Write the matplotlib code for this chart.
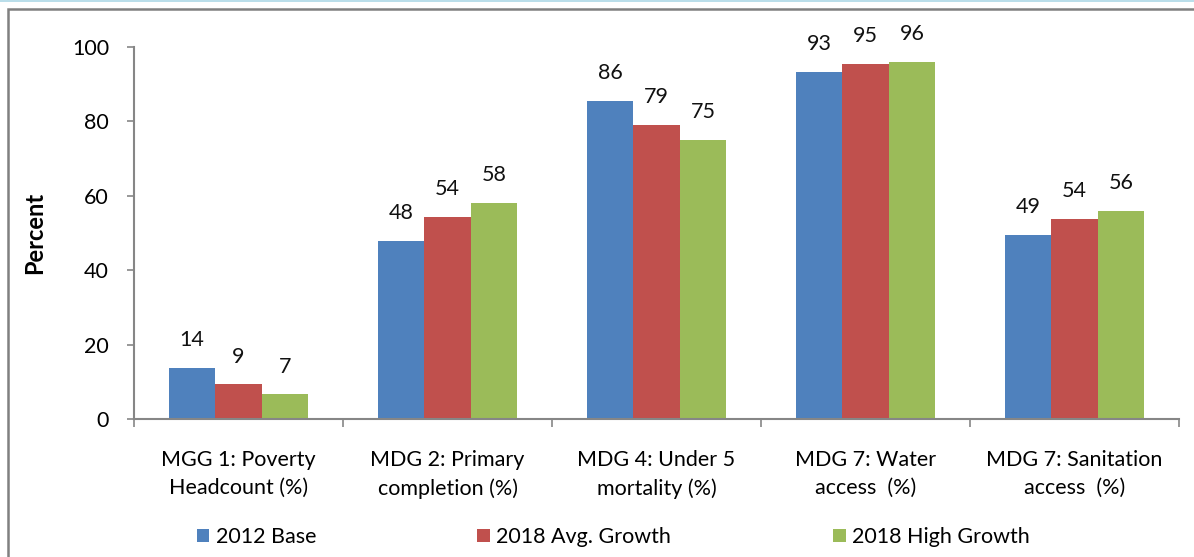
import numpy as np
import matplotlib
matplotlib.use("Agg")
import matplotlib.pyplot as plt
from matplotlib.patches import Rectangle
from matplotlib.lines import Line2D

categories = ["MGG 1: Poverty\nHeadcount (%)", "MDG 2: Primary\ncompletion (%)",
              "MDG 4: Under 5\nmortality (%)", "MDG 7: Water\naccess  (%)",
              "MDG 7: Sanitation\naccess  (%)"]
series_names = ["2012 Base", "2018 Avg. Growth", "2018 High Growth"]
base_2012 = [13.7, 47.9, 85.5, 93.3, 49.4]
avg_2018 = [9.3, 54.3, 79.0, 95.4, 53.8]
high_2018 = [6.6, 58.1, 75.0, 96.1, 55.9]
yticks = [0, 20, 40, 60, 80, 100]

colors = ["#4F81BD", "#C0504D", "#9BBB59"]

plt.rcParams["font.family"] = ["Lato", "DejaVu Sans"]
FS = 15.5

fig = plt.figure(figsize=(11.94, 5.57), dpi=100)
ax = fig.add_axes([134 / 1194, 1 - 419 / 557, (1179 - 134) / 1194, (419 - 47) / 557])

x = np.arange(len(categories))
w = 0.223
for i, (vals, name) in enumerate(zip([base_2012, avg_2018, high_2018], series_names)):
    ax.bar(x + (i - 1) * w, vals, w, color=colors[i], label=name, zorder=2)
    for xi, v in zip(x + (i - 1) * w, vals):
        ax.annotate(f"{v:.0f}", (xi, v), xytext=(0, 20), textcoords="offset points",
                    ha="center", va="center", fontsize=FS, color="#111111")

ax.set_xlim(-0.5, len(categories) - 0.5)
ax.set_ylim(0, 100)
ax.set_yticks(yticks)
ax.tick_params(axis="y", labelsize=FS, length=5, width=1.2, color="#868686", pad=13)
ax.set_xticks(x)
ax.set_xticklabels(categories, fontsize=FS, linespacing=1.55)
ax.tick_params(axis="x", which="major", length=0, pad=22)
ax.set_xticks(np.arange(-0.5, len(categories)), minor=True)
ax.tick_params(axis="x", which="minor", length=6, width=1.2, color="#868686")

for s in ["top", "right"]:
    ax.spines[s].set_visible(False)
for s in ["left", "bottom"]:
    ax.spines[s].set_color("#868686")
    ax.spines[s].set_linewidth(1.5)

ax.set_ylabel("Percent", fontsize=17, fontweight="bold")
ax.yaxis.set_label_coords(-88 / 1045, 0.5)

fig.legend(loc="center", bbox_to_anchor=(613 / 1194, 1 - 537 / 557), ncol=3,
           frameon=False, fontsize=FS, handlelength=0.6, handleheight=0.6,
           handletextpad=0.28, columnspacing=7.5)

# outer frame
fig.add_artist(Rectangle((8 / 1194, -0.1), 1.2, 1 - 9 / 557 + 0.1, transform=fig.transFigure,
                         fill=False, edgecolor="#808080", linewidth=1.8))
fig.add_artist(Line2D([0, 1], [1 - 0.5 / 557] * 2, transform=fig.transFigure,
                      color="#ADD8E6", linewidth=1.2))

fig.savefig("out.png", dpi=100)
